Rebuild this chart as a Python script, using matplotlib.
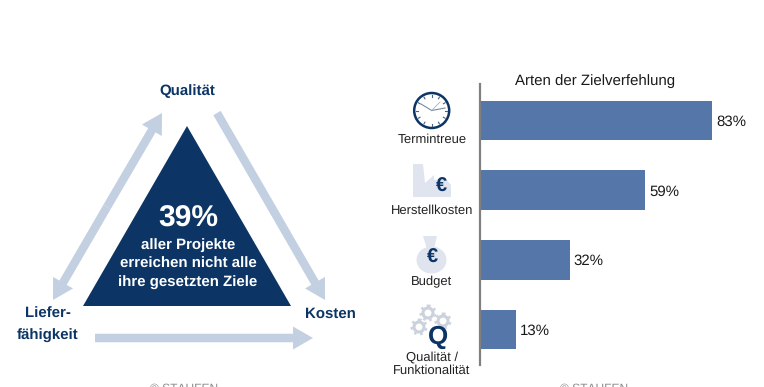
import numpy as np
import matplotlib
matplotlib.use('Agg')
import matplotlib.pyplot as plt
import matplotlib.patches as mpatches

plt.rcParams['font.family'] = ['Liberation Sans', 'DejaVu Sans']
plt.rcParams['text.hinting'] = 'no_hinting'
plt.rcParams['text.hinting_factor'] = 1

categories = ['Termintreue', 'Herstellkosten', 'Budget', 'Qualität /\nFunktionalität']
values = [83, 59, 32, 13]
chart_title = 'Arten der Zielverfehlung'
headline = '39%'
headline_lines = ['aller Projekte', 'erreichen nicht alle', 'ihre gesetzten Ziele']

NAVY = '#0c3566'
PALE = '#c3d0e2'
ICON = '#dfe4ee'
GEAR = '#ccd2dd'
BAR = '#5576a8'

W, H = 764, 387
fig = plt.figure(figsize=(W / 100, H / 100), dpi=100)

# overlay in pixel coords for the triangle diagram and icons
bg = fig.add_axes([0, 0, 1, 1])
bg.set_xlim(0, W)
bg.set_ylim(H, 0)
bg.axis('off')


def arrow(x0, y0, x1, y1):
    bg.add_patch(mpatches.FancyArrow(x0, y0, x1 - x0, y1 - y0, width=8.5, head_width=23,
                                     head_length=20, length_includes_head=True,
                                     color=PALE, lw=0))


# triangle
bg.add_patch(mpatches.Polygon([(187, 126), (83, 306), (291, 306)], closed=True, color=NAVY, lw=0))
arrow(107, 207, 162, 113)
arrow(107, 207, 53, 300)
arrow(217, 113, 325, 300)
arrow(95, 338, 313, 338)

bg.text(188, 218.5, headline, color='white', fontsize=21.5, fontweight='bold', ha='center', va='center')
for yy, line in zip([245.5, 264, 282.5], headline_lines):
    bg.text(188, yy, line, color='white', fontsize=10.8, fontweight='bold', ha='center', va='center')

for xx, yy, s in [(187, 91, 'Qualität'), (48, 314, 'Liefer-'), (48, 336, 'fähigkeit'), (330, 314, 'Kosten')]:
    bg.text(xx, yy, s, color=NAVY, fontsize=11, fontweight='bold', ha='center', va='center')

# clock icon
cx, cy = 431.7, 110.5
bg.add_patch(mpatches.Circle((cx, cy), 17.5, fc='white', ec=NAVY, lw=1.8))
for a in np.arange(0, 360, 30):
    r = np.radians(a)
    bg.plot([cx + 13.5 * np.cos(r), cx + 15.5 * np.cos(r)],
            [cy + 13.5 * np.sin(r), cy + 15.5 * np.sin(r)], color='#4a6285', lw=0.8)
bg.plot([cx, 421], [cy, 104], color='#7a8aa0', lw=0.8)
bg.plot([cx, 445], [cy, 108], color='#7a8aa0', lw=0.8)
bg.plot([cx, 440], [cy, 102], color='#a5b0c0', lw=0.6)

# factory icon
bg.add_patch(mpatches.Polygon([(413, 164), (423, 164), (425, 183), (434, 175), (434, 180), (445, 178),
                               (451, 185), (451, 197), (413, 197)],
                              closed=True, color=ICON, lw=0))
bg.text(441, 187, '€', color=NAVY, fontsize=14.5, fontweight='bold', ha='center', va='center')

# bag icon
bg.add_patch(mpatches.Ellipse((431.5, 260), 30, 27, color=ICON, lw=0))
bg.add_patch(mpatches.Polygon([(423, 236), (437, 236), (434, 249), (427, 249)], closed=True, color=ICON, lw=0))
bg.text(432, 258, '€', color=NAVY, fontsize=14.5, fontweight='bold', ha='center', va='center')

# gears + Q icon
for gx, gy in [(428, 313), (443, 321), (419, 327)]:
    bg.add_patch(mpatches.Circle((gx, gy), 5, fc='none', ec=GEAR, lw=2.2))
    bg.add_patch(mpatches.Circle((gx, gy), 7, fc='none', ec=GEAR, lw=2.2, ls=(0, (0.8, 1.2))))
bg.text(438, 337.5, 'Q', color=NAVY, fontsize=19, fontweight='bold', ha='center', va='center')

# copyright lines, cut by the lower edge as in the source
bg.text(184, 389, '© STAUFEN', color='#8c8c8c', fontsize=8.5, ha='center', va='center')
bg.text(594, 389, '© STAUFEN', color='#8c8c8c', fontsize=8.5, ha='center', va='center')

bg.text(595, 81, chart_title, color='#1a1a1a', fontsize=10.8, ha='center', va='center')

# labels under the icons
label_y = [139.5, 210.5, 281.5, 364]
for yy, s in zip(label_y, categories):
    bg.text(432, yy, s, color='#222222', fontsize=9.2, ha='center', va='center', linespacing=1.2)

# bar chart
ax = fig.add_axes([480 / W, 1 - 365 / H, (W - 480) / W, (365 - 84) / H])
ax.patch.set_alpha(0)
y = np.arange(len(values))
ax.barh(y, values, height=0.57, color=BAR)
ax.set_xlim(0, (W - 480) / 2.80)
ax.set_ylim(3.51, -0.524)
ax.set_xticks([])
ax.set_yticks([])
for s in ['top', 'right', 'bottom']:
    ax.spines[s].set_visible(False)
ax.spines['left'].set_color('#808080')
ax.spines['left'].set_linewidth(1.6)
for i, v in enumerate(values):
    ax.text(v + 1.4, i + 0.02, f'{v}%', color='#1a1a1a', fontsize=10.6, ha='left', va='center')

plt.savefig('out.png', dpi=100)
